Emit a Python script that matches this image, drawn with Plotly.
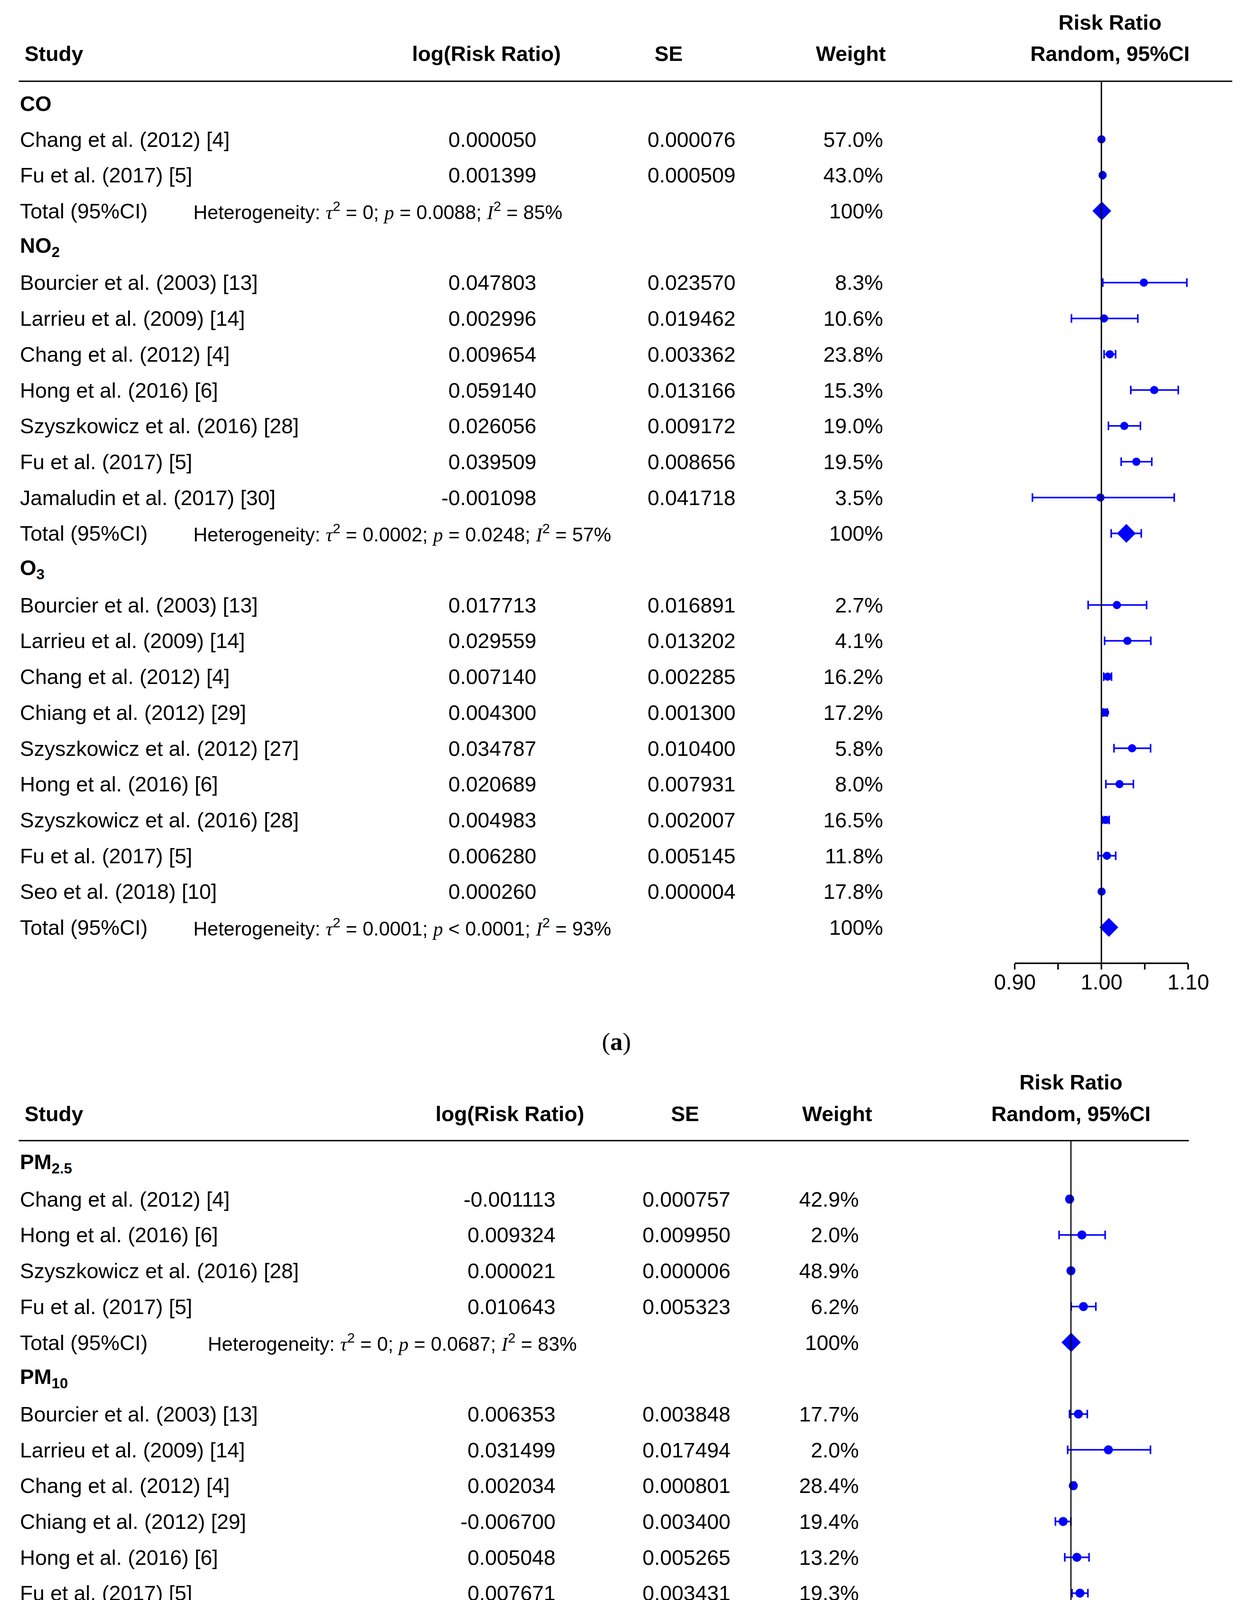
import math
import plotly.graph_objects as go

W, H = 3180, 5437
SANS = "Liberation Sans, Arial, sans-serif"
SERIF = "Liberation Serif, Times New Roman, serif"
BLUE = "#0000FF"

# ---------------- data: panel (a) ----------------
a_groups = ["CO", "NO<sub>2</sub>", "O<sub>3</sub>"]
a_studies = [
    ["Chang et al. (2012) [4]", "Fu et al. (2017) [5]"],
    ["Bourcier et al. (2003) [13]", "Larrieu et al. (2009) [14]", "Chang et al. (2012) [4]",
     "Hong et al. (2016) [6]", "Szyszkowicz et al. (2016) [28]", "Fu et al. (2017) [5]",
     "Jamaludin et al. (2017) [30]"],
    ["Bourcier et al. (2003) [13]", "Larrieu et al. (2009) [14]", "Chang et al. (2012) [4]",
     "Chiang et al. (2012) [29]", "Szyszkowicz et al. (2012) [27]", "Hong et al. (2016) [6]",
     "Szyszkowicz et al. (2016) [28]", "Fu et al. (2017) [5]", "Seo et al. (2018) [10]"],
]
a_logrr = [
    [0.000050, 0.001399],
    [0.047803, 0.002996, 0.009654, 0.059140, 0.026056, 0.039509, -0.001098],
    [0.017713, 0.029559, 0.007140, 0.004300, 0.034787, 0.020689, 0.004983, 0.006280, 0.000260],
]
a_se = [
    [0.000076, 0.000509],
    [0.023570, 0.019462, 0.003362, 0.013166, 0.009172, 0.008656, 0.041718],
    [0.016891, 0.013202, 0.002285, 0.001300, 0.010400, 0.007931, 0.002007, 0.005145, 0.000004],
]
a_weight = [
    [57.0, 43.0],
    [8.3, 10.6, 23.8, 15.3, 19.0, 19.5, 3.5],
    [2.7, 4.1, 16.2, 17.2, 5.8, 8.0, 16.5, 11.8, 17.8],
]
a_tau2 = ["0", "0.0002", "0.0001"]
a_prel = ["=", "=", "<"]
a_pval = ["0.0088", "0.0248", "0.0001"]
a_i2 = ["85%", "57%", "93%"]
a_pooled = [1.0005, 1.0288, 1.0086]
a_pooled_lo = [1.0000, 1.0113, 1.0045]
a_pooled_hi = [1.0011, 1.0460, 1.0128]

# ---------------- data: panel (b) ----------------
b_groups = ["PM<sub>2.5</sub>", "PM<sub>10</sub>", "SO<sub>2</sub>"]
b_studies = [
    ["Chang et al. (2012) [4]", "Hong et al. (2016) [6]", "Szyszkowicz et al. (2016) [28]",
     "Fu et al. (2017) [5]"],
    ["Bourcier et al. (2003) [13]", "Larrieu et al. (2009) [14]", "Chang et al. (2012) [4]",
     "Chiang et al. (2012) [29]", "Hong et al. (2016) [6]", "Fu et al. (2017) [5]",
     "Lee et al. (2018) [11]"],
    ["Bourcier et al. (2003) [13]", "Chang et al. (2012) [4]", "Chiang et al. (2012) [29]",
     "Hong et al. (2016) [6]", "Szyszkowicz et al. (2016) [28]", "Fu et al. (2017) [5]",
     "Jamaludin et al. (2017) [30]"],
]
b_logrr = [
    [-0.001113, 0.009324, 0.000021, 0.010643],
    [0.006353, 0.031499, 0.002034, -0.006700, 0.005048, 0.007671, 0.440000],
    [-0.051133, 0.013574, -0.013600, 0.007524, 0.009469, 0.046884, -0.166250],
]
b_se = [
    [0.000757, 0.009950, 0.000006, 0.005323],
    [0.003848, 0.017494, 0.000801, 0.003400, 0.005265, 0.003431, 0.224490],
    [0.049217, 0.002281, 0.003800, 0.007906, 0.006397, 0.021870, 0.070840],
]
b_weight = [
    [42.9, 2.0, 48.9, 6.2],
    [17.7, 2.0, 28.4, 19.4, 13.2, 19.3, 0.0],
    [1.9, 25.1, 24.0, 19.4, 21.3, 7.4, 1.0],
]
b_tau2 = ["0", "0", "0.0002"]
b_prel = ["=", "=", "<"]
b_pval = ["0.0687", "0.0076", "0.0001"]
b_i2 = ["83%", "66%", "84%"]
b_pooled = [1.0002, 1.0033, 1.0043]
b_pooled_lo = [0.9990, 1.0002, 0.9907]
b_pooled_hi = [1.0014, 1.0064, 1.0187]

major_ticks = [0.90, 1.00, 1.10]
major_labels = ["0.90", "1.00", "1.10"]
minor_ticks = [0.95, 1.05]

# ---------------- layout geometry (pixels) ----------------
ROW = 91.7
panels = [
    dict(groups=a_groups, studies=a_studies, logrr=a_logrr, se=a_se, weight=a_weight,
         tau2=a_tau2, prel=a_prel, pval=a_pval, i2=a_i2,
         pooled=a_pooled, plo=a_pooled_lo, phi=a_pooled_hi,
         row0=257, top=150, hline=200, hline_x1=3147, axis_y=2458,
         dom_x=(2560, 3147), ref_px=2812, px_per_unit=2220,
         study_hdr_x=53, label_x=41, het_x=485,
         lrr_hdr=1237, lrr_right=1367, se_hdr=1704, se_right=1877,
         w_hdr=2170, w_right=2255, rr_hdr=2834, rr_y1=49, rr_y2=129,
         dot=21, dia=37, xa="x", ya="y", caption="(<b>a</b>)", cap_y=2658),
    dict(groups=b_groups, studies=b_studies, logrr=b_logrr, se=b_se, weight=b_weight,
         tau2=b_tau2, prel=b_prel, pval=b_pval, i2=b_i2,
         pooled=b_pooled, plo=b_pooled_lo, phi=b_pooled_hi,
         row0=2970, top=2863, hline=2912, hline_x1=3036, axis_y=5171,
         dom_x=(1900, 3153), ref_px=2734, px_per_unit=2995,
         study_hdr_x=53, label_x=41, het_x=522,
         lrr_hdr=1297, lrr_right=1416, se_hdr=1746, se_right=1864,
         w_hdr=2135, w_right=2193, rr_hdr=2734, rr_y1=2762, rr_y2=2843,
         dot=23, dia=38, xa="x2", ya="y2", caption="(<b>b</b>)", cap_y=5374),
]
TICKLABEL_GAP = 48


def PX(px):
    return px / W


def PY(py):
    return 1 - py / H


def serif_i(s):
    return f'<span style="font-family:{SERIF}"><i>{s}</i></span>'


def het_text(t2, rel, p, i2):
    return (f"Heterogeneity: {serif_i('τ')}<sup>2</sup> = {t2}; {serif_i('p')} {rel} {p}; "
            f"{serif_i('I')}<sup>2</sup> = {i2}")


fig = go.Figure()
annotations = []
shapes = []
layout_axes = {}

ROW_FONT = 54
HET_FONT = 50
HDR_FONT = 54
TICK_FONT = 55


def ann(text, px, y, yref, anchor, size=ROW_FONT, family=SANS):
    return dict(text=text, x=PX(px), xref="paper", y=y, yref=yref, xanchor=anchor,
                yanchor="middle", showarrow=False,
                font=dict(family=family, size=size, color="black"))


def bold(s):
    return f"<b>{s}</b>"


for k, P in enumerate(panels):
    r_top = (P["top"] - P["row0"]) / ROW
    r_bot = (P["axis_y"] - P["row0"]) / ROW
    ya_name = "yaxis" if k == 0 else "yaxis2"
    xa_name = "xaxis" if k == 0 else "xaxis2"
    x0px, x1px = P["dom_x"]
    xr0 = 1 + (x0px - P["ref_px"]) / P["px_per_unit"]
    xr1 = 1 + (x1px - P["ref_px"]) / P["px_per_unit"]
    layout_axes[xa_name] = dict(
        domain=[PX(x0px), PX(x1px)], range=[xr0, xr1], anchor=P["ya"],
        showgrid=False, zeroline=False, showline=False,
        ticks="outside", ticklen=15, tickwidth=3.5, tickcolor="black",
        tickvals=major_ticks, showticklabels=False,
        minor=dict(tickvals=minor_ticks, ticks="outside", ticklen=15, tickwidth=3.5,
                   tickcolor="black", showgrid=False),
        fixedrange=True)
    layout_axes[ya_name] = dict(
        domain=[PY(P["axis_y"]), PY(P["top"])], range=[r_bot, r_top], anchor=P["xa"],
        visible=False, fixedrange=True)

    # tick labels placed on the axis' own scale
    for tv, tl in zip(major_ticks, major_labels):
        annotations.append(dict(text=tl, x=tv, xref=P["xa"], y=PY(P["axis_y"] + TICKLABEL_GAP),
                                yref="paper", xanchor="center", yanchor="middle", showarrow=False,
                                font=dict(family=SANS, size=TICK_FONT, color="black")))

    # header texts
    hdr_y = PY(P["rr_y2"])
    annotations.append(ann(bold("Study"), P["study_hdr_x"], hdr_y, "paper", "left", HDR_FONT))
    annotations.append(ann(bold("log(Risk Ratio)"), P["lrr_hdr"], hdr_y, "paper", "center", HDR_FONT))
    annotations.append(ann(bold("SE"), P["se_hdr"], hdr_y, "paper", "center", HDR_FONT))
    annotations.append(ann(bold("Weight"), P["w_hdr"], hdr_y, "paper", "center", HDR_FONT))
    annotations.append(ann(bold("Risk Ratio"), P["rr_hdr"], PY(P["rr_y1"]), "paper", "center", HDR_FONT))
    annotations.append(ann(bold("Random, 95%CI"), P["rr_hdr"], hdr_y, "paper", "center", HDR_FONT))

    # header rule
    shapes.append(dict(type="line", xref="paper", yref="paper", x0=PX(40), x1=PX(P["hline_x1"]),
                       y0=PY(P["hline"]), y1=PY(P["hline"]), line=dict(color="black", width=3.5)))
    # reference line at RR = 1
    shapes.append(dict(type="line", xref=P["xa"], yref="paper", x0=1, x1=1,
                       y0=PY(P["hline"]), y1=PY(P["axis_y"]),
                       line=dict(color="black", width=3.5 if k == 0 else 3)))
    # x axis line from 0.90 to 1.10
    shapes.append(dict(type="line", xref=P["xa"], yref="paper", x0=major_ticks[0], x1=major_ticks[-1],
                       y0=PY(P["axis_y"]), y1=PY(P["axis_y"]), line=dict(color="black", width=4)))

    # rows
    r = 0
    sx, sy, splus, sminus = [], [], [], []
    tx, ty, tplus, tminus = [], [], [], []
    for g, gname in enumerate(P["groups"]):
        annotations.append(ann(bold(gname), P["label_x"], r, P["ya"], "left", HDR_FONT))
        r += 1
        for name, lrr, se, w in zip(P["studies"][g], P["logrr"][g], P["se"][g], P["weight"][g]):
            annotations.append(ann(name, P["label_x"], r, P["ya"], "left"))
            annotations.append(ann(f"{lrr:.6f}", P["lrr_right"], r, P["ya"], "right"))
            annotations.append(ann(f"{se:.6f}", P["se_right"], r, P["ya"], "right"))
            annotations.append(ann(f"{w:.1f}%", P["w_right"], r, P["ya"], "right"))
            est = math.exp(lrr)
            lo = math.exp(lrr - 1.96 * se)
            hi = math.exp(lrr + 1.96 * se)
            sx.append(est)
            sy.append(r)
            splus.append(hi - est)
            sminus.append(est - lo)
            r += 1
        annotations.append(ann("Total (95%CI)", P["label_x"], r, P["ya"], "left"))
        annotations.append(ann(het_text(P["tau2"][g], P["prel"][g], P["pval"][g], P["i2"][g]),
                               P["het_x"], r, P["ya"], "left", HET_FONT))
        annotations.append(ann("100%", P["w_right"], r, P["ya"], "right"))
        tx.append(P["pooled"][g])
        ty.append(r)
        tplus.append(P["phi"][g] - P["pooled"][g])
        tminus.append(P["pooled"][g] - P["plo"][g])
        r += 1

    fig.add_trace(go.Scatter(
        x=sx, y=sy, xaxis=P["xa"], yaxis=P["ya"], mode="markers",
        marker=dict(symbol="circle", size=P["dot"], color=BLUE, line=dict(width=0)),
        error_x=dict(type="data", symmetric=False, array=splus, arrayminus=sminus,
                     color=BLUE, thickness=4, width=11),
        hoverinfo="skip", showlegend=False))
    fig.add_trace(go.Scatter(
        x=tx, y=ty, xaxis=P["xa"], yaxis=P["ya"], mode="markers",
        marker=dict(symbol="diamond", size=P["dia"], color=BLUE, line=dict(width=0)),
        error_x=dict(type="data", symmetric=False, array=tplus, arrayminus=tminus,
                     color=BLUE, thickness=4, width=11),
        hoverinfo="skip", showlegend=False))

    # caption
    annotations.append(dict(text=P["caption"], x=PX(1570), xref="paper", y=PY(P["cap_y"]),
                            yref="paper", xanchor="center", yanchor="middle", showarrow=False,
                            font=dict(family=SERIF, size=64, color="black")))

fig.update_layout(
    width=W, height=H, margin=dict(l=0, r=0, t=0, b=0),
    paper_bgcolor="white", plot_bgcolor="rgba(0,0,0,0)",
    showlegend=False, annotations=annotations, shapes=shapes,
    **layout_axes)

fig.write_html("out.html")
